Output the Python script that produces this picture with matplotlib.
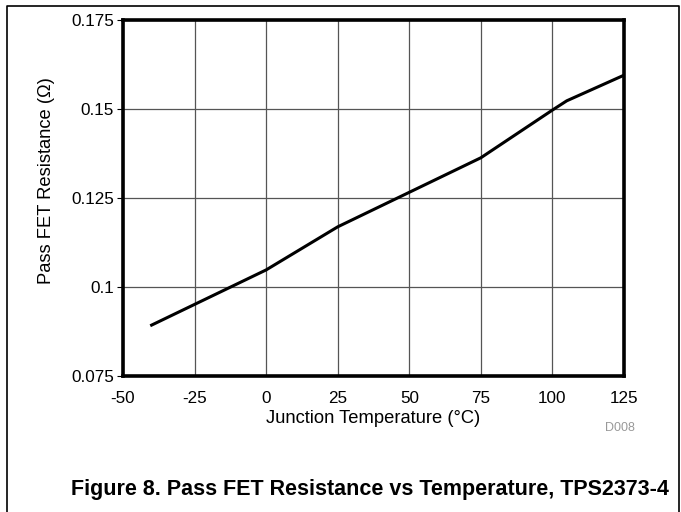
import matplotlib
matplotlib.use("Agg")
import matplotlib.pyplot as plt
from matplotlib.lines import Line2D

plt.rcParams['font.family'] = ['Liberation Sans', 'DejaVu Sans']
plt.rcParams['axes.unicode_minus'] = False

# Pass FET resistance vs junction temperature
temp_c = [-40, 0, 25, 50, 75, 100, 105, 125]
resistance = [0.0893, 0.1048, 0.1169, 0.1266, 0.1363, 0.1497, 0.1523, 0.1595]

x_ticks = [-50, -25, 0, 25, 50, 75, 100, 125]
y_ticks = [0.075, 0.1, 0.125, 0.15, 0.175]
y_tick_labels = ['0.075', '0.1', '0.125', '0.15', '0.175']

fig = plt.figure(figsize=(6.81, 5.12), dpi=100)
ax = fig.add_axes([123 / 681, 1 - 376 / 512, (624 - 123) / 681, (376 - 20) / 512])

ax.plot(temp_c, resistance, color='black', lw=2.2, solid_joinstyle='miter')

ax.set_xlim(-50, 125)
ax.set_ylim(0.075, 0.175)
ax.set_xticks(x_ticks)
ax.set_yticks(y_ticks)
ax.set_yticklabels(y_tick_labels)
ax.grid(True, color='#555555', lw=0.9)
ax.set_axisbelow(True)
for s in ax.spines.values():
    s.set_linewidth(2.6)
    s.set_color('black')
ax.tick_params(direction='out', width=0.8, labelsize=12.3)
ax.tick_params(axis='x', length=0, pad=11)
ax.tick_params(axis='y', length=4, pad=2.5)

ax.set_xlabel('Junction Temperature (°C)', fontsize=13.2, va='center')
ax.xaxis.set_label_coords(0.5, -0.118)
ax.set_ylabel('Pass FET Resistance (Ω)', fontsize=13.2, va='center')
ax.yaxis.set_label_coords(-0.152, 0.55)

fig.text(620 / 681, 1 - 428 / 512, 'D008', fontsize=9, color='#999999',
         ha='center', va='center')
fig.text(370 / 681, 1 - 489 / 512,
         'Figure 8. Pass FET Resistance vs Temperature, TPS2373-4',
         fontsize=15.5, fontweight='bold', ha='center', va='center')

# page frame around the figure
fx = [7 / 681, 7 / 681, 679 / 681, 679 / 681]
fy = [0, 1 - 6 / 512, 1 - 6 / 512, 0]
fig.add_artist(Line2D(fx, fy, transform=fig.transFigure, color='black', lw=1.2))

fig.savefig('out.png', dpi=100)
